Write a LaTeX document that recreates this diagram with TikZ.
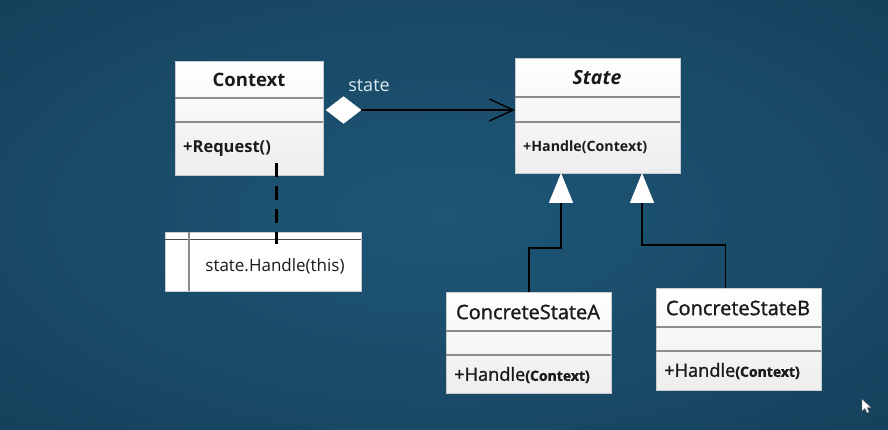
\documentclass[tikz,border=0pt]{standalone}
\usepackage{fontspec}
\setmainfont{Open Sans}
\newfontfamily\medfont[FakeBold=1.3]{Open Sans}
\usetikzlibrary{arrows.meta,shapes.geometric}
\definecolor{bgin}{HTML}{1E5676}
\definecolor{bgmid}{HTML}{184864}
\definecolor{bgout}{HTML}{113650}
\definecolor{sepline}{HTML}{8C8C8C}
\definecolor{boxedge}{HTML}{C8CCD0}
\definecolor{labelc}{HTML}{DDE8F0}
\definecolor{txt}{HTML}{1A1A1A}
\pgfdeclareradialshading{vign}{\pgfpoint{0bp}{0bp}}{color(0bp)=(bgin); color(25bp)=(bgmid); color(50bp)=(bgout); color(60bp)=(bgout)}
\tikzset{
  classbox/.style={draw=boxedge, line width=0.8pt, top color=white, bottom color=black!7, anchor=north west, inner sep=0pt},
  sepl/.style={draw=sepline, line width=1.2pt},
  conn/.style={draw=black, line width=1.6pt},
  gen/.style={conn, -{Triangle[length=30pt,width=24pt,color=white]}},
  titlef/.style={font=\fontsize{18.5}{22}\selectfont\bfseries, text=txt},
  methf/.style={anchor=west, text=txt, inner sep=0pt},
}
\begin{document}
\begin{tikzpicture}[x=1pt,y=-1pt]
\useasboundingbox (0,0) rectangle (888,430);
\shade[shading=vign] (0,0) rectangle (888,430);
% Context
\node[classbox, minimum width=148pt, minimum height=114pt] (ctx) at (175,61) {};
\draw[sepl] (175,98) -- (323,98);
\draw[sepl] (175,122) -- (323,122);
\node[titlef] (ctxname) at (249,80) {Context};
\node[methf, font=\fontsize{16.5}{19}\selectfont\bfseries] (ctxm) at (183,149) {+Request()};
% State
\node[classbox, minimum width=165pt, minimum height=115pt] (st) at (515,58) {};
\draw[sepl] (515,97) -- (680,97);
\draw[sepl] (515,122) -- (680,122);
\node[titlef, font=\fontsize{19.5}{22}\selectfont\bfseries\itshape] (stname) at (597,78) {State};
\node[methf, font=\fontsize{14.2}{17}\selectfont\bfseries] (stm) at (523,147) {+Handle(Context)};
% ConcreteStateA
\node[classbox, minimum width=165pt, minimum height=101pt] (csa) at (446,292) {};
\draw[sepl] (446,331) -- (611,331);
\draw[sepl] (446,355) -- (611,355);
\node[font=\fontsize{20}{24}\selectfont\medfont, text=txt] (csaname) at (528,312) {ConcreteStateA};
\node[methf] (csam) at (454,375) {\fontsize{18.2}{22}\selectfont\medfont +Handle\fontsize{14}{16}\selectfont\bfseries(Context)};
% ConcreteStateB
\node[classbox, minimum width=165pt, minimum height=102pt] (csb) at (656,288) {};
\draw[sepl] (656,327) -- (821,327);
\draw[sepl] (656,351) -- (821,351);
\node[font=\fontsize{20}{24}\selectfont\medfont, text=txt] (csbname) at (738,308) {ConcreteStateB};
\node[methf] (csbm) at (664,371) {\fontsize{18.2}{22}\selectfont\medfont +Handle\fontsize{14}{16}\selectfont\bfseries(Context)};
% Note
\node[classbox, top color=white, bottom color=white, minimum width=196pt, minimum height=59pt] (note) at (165,232) {};
\draw[draw=black!70, line width=1pt] (165,240) -- (361,240);
\draw[draw=sepline, line width=1.2pt] (189,232) -- (189,291);
\node[font=\fontsize{17}{20}\selectfont, text=txt] (notetext) at (275,266) {state.Handle(this)};
% aggregation
\node[diamond, fill=white, draw=white, minimum width=35pt, minimum height=27pt, inner sep=0pt] (dia) at (343.5,110) {};
\draw[conn, -{Straight Barb[length=24pt,width=22pt,line width=1.4pt]}] (dia.east) -- (dia.east -| st.west);
\node[font=\fontsize{18}{21}\selectfont, text=labelc] (statelbl) at (369,86) {state};
% generalizations
\coordinate (sa) at (561,173);
\coordinate (sb) at (642,173);
\draw[gen] (csa.north) |- (561,248) -- (sa);
\draw[gen] ([xshift=-13.5pt]csb.north) |- (642,245) -- (sb);
% dashed note link
\coordinate (dstart) at (276,163);
\coordinate (dend) at (276,244);
\draw[black, line width=3pt, dash pattern=on 14pt off 9pt] (dstart) -- (dend);
% cursor
\fill[white, draw=black!60, line width=0.4pt] (862,399) -- (862,411) -- (865,408.5) -- (867,413) -- (869,412) -- (867,407.5) -- (871,407.5) -- cycle;
\end{tikzpicture}
\end{document}
